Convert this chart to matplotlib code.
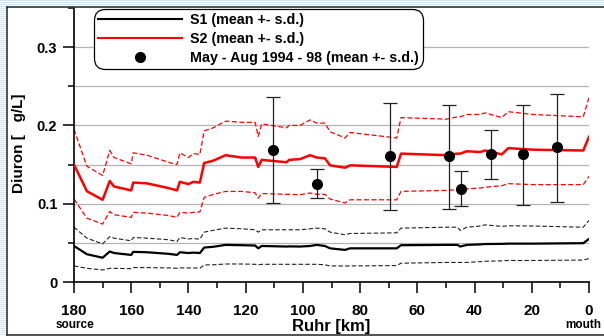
import matplotlib
matplotlib.use("Agg")
import matplotlib.pyplot as plt
from matplotlib.lines import Line2D
from matplotlib.patches import Rectangle
import numpy as np

plt.rcParams['font.family'] = ['Liberation Sans', 'DejaVu Sans']
plt.rcParams['font.weight'] = 'bold'

# ---- data ----
km = [180, 175.5, 170, 167.5, 166, 160, 159.3, 154.5, 147, 144, 143, 140, 138.3, 136,
      134.5, 131.3, 127, 121.5, 116.7, 115.6, 114.4, 105.7, 104.8, 101, 97.5, 95.2,
      92.3, 90.5, 85.3, 83.5, 67.2, 65.7, 49.8, 46, 45, 42.7, 38.1, 36.3, 30.5, 28.2,
      19.5, 2, 0]

s2_mean = [0.150, 0.116, 0.105, 0.129, 0.122, 0.117, 0.127, 0.126, 0.120, 0.117, 0.128,
           0.125, 0.128, 0.127, 0.152, 0.155, 0.162, 0.159, 0.159, 0.147, 0.156, 0.153,
           0.156, 0.157, 0.162, 0.159, 0.158, 0.149, 0.146, 0.149, 0.147, 0.164, 0.162,
           0.164, 0.164, 0.167, 0.166, 0.168, 0.163, 0.171, 0.169, 0.168, 0.1855]
s2_upper = [0.195, 0.148, 0.136, 0.168, 0.159, 0.151, 0.165, 0.162, 0.153, 0.150, 0.165,
            0.159, 0.164, 0.163, 0.193, 0.197, 0.2055, 0.204, 0.204, 0.186, 0.202, 0.197,
            0.200, 0.200, 0.207, 0.203, 0.203, 0.192, 0.184, 0.191, 0.184, 0.210, 0.208,
            0.211, 0.211, 0.214, 0.214, 0.216, 0.210, 0.2175, 0.214, 0.211, 0.2355]
s2_lower = [0.106, 0.0816, 0.074, 0.090, 0.086, 0.0825, 0.089, 0.088, 0.085, 0.0825, 0.089,
            0.088, 0.089, 0.0895, 0.108, 0.112, 0.1157, 0.1157, 0.114, 0.107, 0.113, 0.112,
            0.112, 0.1115, 0.1137, 0.112, 0.112, 0.106, 0.101, 0.105, 0.105, 0.1158, 0.117,
            0.118, 0.118, 0.119, 0.120, 0.121, 0.123, 0.1256, 0.1244, 0.1244, 0.135]
s1_mean = [0.046, 0.0355, 0.031, 0.039, 0.037, 0.0346, 0.0385, 0.038, 0.036, 0.0346, 0.038,
           0.037, 0.0375, 0.037, 0.044, 0.045, 0.0474, 0.0470, 0.0466, 0.043, 0.046, 0.0453,
           0.0455, 0.0453, 0.046, 0.0474, 0.046, 0.043, 0.041, 0.043, 0.043, 0.047, 0.0474,
           0.0474, 0.0453, 0.0474, 0.048, 0.0485, 0.0487, 0.049, 0.049, 0.0496, 0.055]
s1_upper = [0.070, 0.056, 0.0487, 0.058, 0.056, 0.0526, 0.0568, 0.056, 0.054, 0.0517, 0.0568,
            0.055, 0.0555, 0.0547, 0.0637, 0.066, 0.0688, 0.068, 0.0667, 0.0637, 0.0667, 0.0667,
            0.0667, 0.0667, 0.068, 0.0688, 0.068, 0.0637, 0.0603, 0.062, 0.0628, 0.0688, 0.070,
            0.070, 0.0658, 0.070, 0.0715, 0.073, 0.071, 0.0718, 0.0715, 0.070, 0.0786]
s1_lower = [0.0205, 0.0175, 0.0154, 0.0175, 0.0175, 0.017, 0.0184, 0.0184, 0.018, 0.0175, 0.018,
            0.018, 0.018, 0.0175, 0.0218, 0.022, 0.023, 0.023, 0.0226, 0.022, 0.0226, 0.0226,
            0.0226, 0.0226, 0.0226, 0.0226, 0.022, 0.0205, 0.0205, 0.0205, 0.021, 0.024, 0.025,
            0.025, 0.025, 0.025, 0.026, 0.0265, 0.027, 0.0275, 0.0275, 0.028, 0.030]

obs_km = [110.3, 95.2, 69.4, 48.9, 44.7, 34.4, 22.9, 11.3]
obs_mean = [0.169, 0.1256, 0.1607, 0.1607, 0.119, 0.163, 0.1637, 0.172]
obs_hi = [0.2368, 0.1445, 0.229, 0.226, 0.1415, 0.194, 0.2265, 0.2397]
obs_lo = [0.1009, 0.107, 0.0923, 0.0936, 0.0966, 0.1316, 0.0987, 0.102]

xticks = [180, 160, 140, 120, 100, 80, 60, 40, 20, 0]
yticks = [0, 0.1, 0.2, 0.3]
ytick_labels = ['0', '0.1', '0.2', '0.3']
legend_labels = ['S1 (mean +- s.d.)', 'S2 (mean +- s.d.)', 'May - Aug 1994 - 98 (mean +- s.d.)']

# ---- figure ----
W, H = 604, 336
fig = plt.figure(figsize=(W / 100, H / 100), dpi=100)
fig.patch.set_facecolor('white')

# striped light-blue margin (left and top)
def px_rect(x0, y0, w, h, **kw):
    fig.add_artist(Rectangle((x0 / W, 1 - (y0 + h) / H), w / W, h / H,
                             transform=fig.transFigure, lw=0, **kw))

for y in range(0, H, 2):
    px_rect(0, y, 6, 1, color='#cfe6f7')
for y in range(0, 6, 2):
    px_rect(0, y, W, 1, color='#cfe6f7')

# frame border
fig.add_artist(Line2D([6.5 / W, 6.5 / W], [1 - 6.5 / H, 1 - 334.5 / H],
                      transform=fig.transFigure, color='#333333', lw=1.2))
fig.add_artist(Line2D([6.5 / W, 1], [1 - 6.5 / H, 1 - 6.5 / H],
                      transform=fig.transFigure, color='#333333', lw=1.2))
fig.add_artist(Line2D([6.5 / W, 1], [1 - 334.5 / H, 1 - 334.5 / H],
                      transform=fig.transFigure, color='#333333', lw=1.2))

ax_l, ax_r, ax_t, ax_b = 74, 589, 8, 282
ax = fig.add_axes([ax_l / W, 1 - ax_b / H, (ax_r - ax_l) / W, (ax_b - ax_t) / H])
ax.set_facecolor('none')

ax.set_xlim(180, 0)
ax.set_ylim(0, 0.35)

# grid
for g in [0.05, 0.10, 0.15, 0.20, 0.25, 0.30]:
    ax.axhline(g, color='#b4b4b4', lw=0.9, zorder=0)

dash = (0, (4, 2))
ax.plot(km, s1_upper, color='#222222', lw=0.8, linestyle=dash, zorder=2)
ax.plot(km, s1_lower, color='#222222', lw=0.8, linestyle=dash, zorder=2)
ax.plot(km, s1_mean, color='black', lw=1.6, zorder=3)
ax.plot(km, s2_upper, color='#ff0000', lw=0.9, linestyle=dash, zorder=2)
ax.plot(km, s2_lower, color='#ff0000', lw=0.9, linestyle=dash, zorder=2)
ax.plot(km, s2_mean, color='#ff0000', lw=1.8, zorder=3)

om = np.array(obs_mean)
yerr = [om - np.array(obs_lo), np.array(obs_hi) - om]
ax.errorbar(obs_km, obs_mean, yerr=yerr, fmt='o', color='black', ecolor='#222222',
            elinewidth=0.9, capsize=5, capthick=0.9, markersize=7, zorder=4)

# spines & ticks
for s in ['top', 'right']:
    ax.spines[s].set_visible(False)
for s in ['left', 'bottom']:
    ax.spines[s].set_linewidth(1.2)
ax.set_xticks(xticks)
ax.set_xticklabels([str(v) for v in xticks])
ax.set_xticks(np.arange(10, 180, 20), minor=True)
ax.set_yticks(yticks)
ax.set_yticklabels(ytick_labels)
ax.set_yticks([0.05, 0.15, 0.25, 0.35], minor=True)
ax.tick_params(axis='both', which='major', direction='out', length=8, width=1.1)
ax.tick_params(axis='both', which='minor', direction='out', length=4, width=1.1)
ax.tick_params(axis='x', which='major', labelsize=11, pad=8)
ax.tick_params(axis='y', which='major', labelsize=10.5, pad=4)
for lab in ax.get_xticklabels() + ax.get_yticklabels():
    lab.set_fontweight('bold')

# axis texts
fig.text(331 / W, 1 - 326 / H, 'Ruhr [km]', ha='center', va='center',
         fontsize=12, fontweight='bold')
fig.text(74.5 / W, 1 - 325 / H, 'source', ha='center', va='center',
         fontsize=8.5, fontweight='bold')
fig.text(583 / W, 1 - 325 / H, 'mouth', ha='center', va='center',
         fontsize=8.5, fontweight='bold')
fig.text(19 / W, 1 - 143 / H, 'Diuron [   g/L]', ha='center', va='center',
         rotation=90, fontsize=11, fontweight='bold')

# legend
handles = [Line2D([], [], color='black', lw=1.5),
           Line2D([], [], color='#ff0000', lw=1.5),
           Line2D([], [], color='black', marker='o', linestyle='none', markersize=7)]
leg = ax.legend(handles, legend_labels, loc='upper left',
                bbox_to_anchor=((94 - ax_l) / (ax_r - ax_l), (ax_b - 9) / (ax_b - ax_t)),
                borderaxespad=0, fancybox=True, framealpha=1, edgecolor='black',
                prop={'weight': 'bold', 'size': 10.3}, handlelength=5.9, handletextpad=0.56,
                labelspacing=0.36, borderpad=0.28)
leg.get_frame().set_linewidth(0.9)
leg.get_frame().set_boxstyle('round,pad=0,rounding_size=0.8')

fig.savefig('out.png', dpi=100)
